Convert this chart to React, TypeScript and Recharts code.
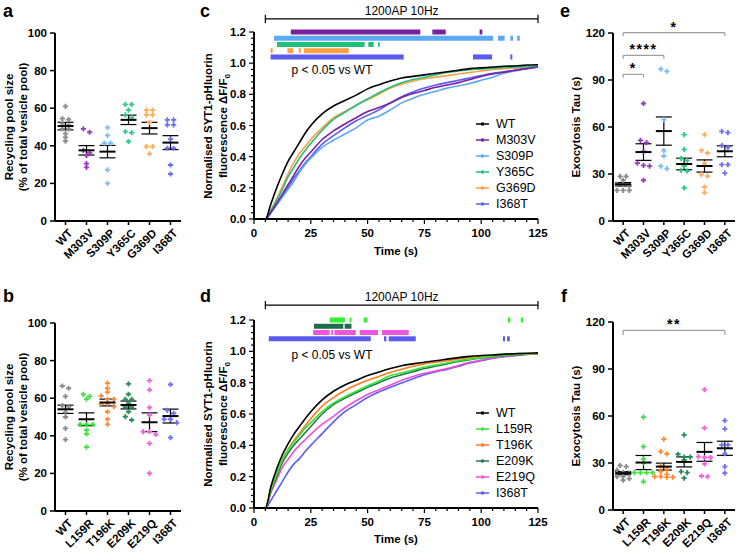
import React from 'react';
import {
  ComposedChart, LineChart, Line, Scatter, XAxis, YAxis, ErrorBar,
  ReferenceLine, ReferenceArea, Legend,
} from 'recharts';

const FONT = '"Liberation Sans", Arial, Helvetica, sans-serif';

// ---------------- Panels a & e : C2B variants ----------------
const CATS_AE = ['WT', 'M303V', 'S309P', 'Y365C', 'G369D', 'I368T'];
const POOL_A = [
  [61, 54.5, 54, 52, 51, 49, 49, 46.5, 44.5, 42.5],
  [49, 47.2, 37.5, 36.2, 34.8, 30.5, 28.5],
  [49.7, 45.5, 41.4, 41.4, 27.2, 20],
  [62, 62, 59, 56.5, 55, 47.5, 47, 42.3],
  [59, 59, 56.5, 56.5, 52.4, 39.6, 39.6, 35.7],
  [53.8, 53.8, 51.1, 51.1, 43.5, 38.7, 38.7, 29.8, 25],
];
const POOL_A_MEAN = [50.5, 37.6, 36.9, 53.8, 49.4, 41.7];
const POOL_A_SEM = [2.0, 2.5, 3.3, 2.5, 3.1, 3.7];

const TAU_E = [
  [28.5, 28.5, 26, 23.4, 23.4, 22.5, 19.5, 19.5, 19.5],
  [75, 51.5, 50, 44.5, 37, 35.5, 35, 26],
  [95.5, 97, 64.7, 45, 41.5, 35, 33.4],
  [55.1, 45.7, 39.8, 38.7, 35.1, 32.3, 31.9, 21.1],
  [55.1, 45.1, 43.4, 36.6, 29.6, 28.7, 21.7, 18.1],
  [56.4, 57.2, 48.3, 47, 36, 36, 30.6],
];
const TAU_E_MEAN = [23.4, 44, 57.4, 36.4, 35.1, 44.5];
const TAU_E_SEM = [1.1, 5.3, 9, 3.7, 3.9, 3.5];
const SIG_E = [
  { to: 1, y: 93.6, stars: '*' },
  { to: 2, y: 105.7, stars: '****' },
  { to: 5, y: 120.2, stars: '*' },
];

// ---------------- Panels b & f : other variants ----------------
const CATS_BF = ['WT', 'L159R', 'T196K', 'E209K', 'E219Q', 'I368T'];
const POOL_B = [
  [66.5, 65.3, 61, 56, 55.5, 52.5, 50, 44, 38],
  [61, 62, 59.5, 46, 46, 46, 43, 41, 34],
  [68, 65.3, 63.2, 61.2, 59.4, 59.4, 57, 57, 55.5, 52.8, 48.8, 46.1],
  [67.6, 62.1, 59.4, 59.4, 57.3, 55.2, 55.2, 52.8, 50.2, 48.4],
  [69.4, 64.4, 55, 51, 42.2, 42.2, 40.7, 36, 20],
  [67.3, 53.5, 52, 48.8, 48.8, 47, 39],
];
const POOL_B_MEAN = [54.1, 48.8, 57.7, 56.4, 47.2, 50.5];
const POOL_B_SEM = [2.2, 3.4, 1.8, 2.1, 5.0, 3.7];

const TAU_F = [
  [28.4, 27.7, 25.5, 24, 23.5, 21.3, 21.3, 19, 20],
  [59.3, 40.5, 32.6, 30, 23.9, 23.9, 23.9, 23.9, 18.1],
  [45.2, 37.3, 35.8, 28, 26, 24.5, 22.8, 21.3, 21.3, 21, 21],
  [48, 35.6, 33.7, 33.7, 32, 24.5, 23.9, 20.3],
  [76.8, 52.2, 34.1, 33.5, 33.5, 29.4, 21.3, 21.7],
  [57.1, 51.8, 41.6, 41.6, 36, 27.7, 23.5],
];
const TAU_F_MEAN = [23.5, 30.3, 27.7, 30.7, 37.1, 39.4];
const TAU_F_SEM = [1.0, 4.5, 2.2, 3.2, 6.0, 4.5];
const SIG_F = [{ to: 5, y: 114.7, stars: '**' }];

// ---------------- Panels c & d : traces ----------------
const TIME = [0, 2.5, 5, 7.5, 10, 12.5, 15, 17.5, 20, 22.5, 25, 30, 35, 40, 45, 50, 55, 60, 65, 70, 75, 80, 85, 90, 95, 100, 105, 110, 115, 120, 125];

const TRACE_C: Record<string, number[]> = {
  WT: [0, 0, 0, 0.10, 0.20, 0.29, 0.37, 0.43, 0.49, 0.55, 0.60, 0.675, 0.725, 0.76, 0.795, 0.835, 0.862, 0.886, 0.905, 0.915, 0.925, 0.935, 0.945, 0.955, 0.965, 0.97, 0.975, 0.98, 0.982, 0.988, 0.99],
  M303V: [0, 0, 0, 0.045, 0.10, 0.16, 0.22, 0.28, 0.34, 0.39, 0.43, 0.51, 0.565, 0.61, 0.65, 0.69, 0.715, 0.745, 0.78, 0.805, 0.825, 0.845, 0.86, 0.875, 0.895, 0.915, 0.93, 0.942, 0.955, 0.965, 0.975],
  S309P: [0, 0, 0, 0.04, 0.09, 0.14, 0.19, 0.24, 0.30, 0.35, 0.39, 0.46, 0.505, 0.545, 0.585, 0.635, 0.66, 0.70, 0.745, 0.775, 0.80, 0.82, 0.84, 0.855, 0.87, 0.89, 0.91, 0.935, 0.95, 0.965, 0.975],
  Y365C: [0, 0, 0, 0.055, 0.12, 0.19, 0.27, 0.33, 0.39, 0.44, 0.485, 0.57, 0.64, 0.685, 0.73, 0.77, 0.81, 0.845, 0.875, 0.895, 0.91, 0.925, 0.94, 0.95, 0.958, 0.963, 0.968, 0.972, 0.975, 0.978, 0.98],
  G369D: [0, 0, 0, 0.06, 0.13, 0.21, 0.29, 0.36, 0.42, 0.465, 0.51, 0.585, 0.65, 0.69, 0.73, 0.765, 0.80, 0.84, 0.865, 0.885, 0.90, 0.91, 0.92, 0.93, 0.94, 0.95, 0.96, 0.965, 0.97, 0.975, 0.98],
  I368T: [0, 0, 0, 0.04, 0.095, 0.15, 0.20, 0.26, 0.31, 0.36, 0.40, 0.48, 0.535, 0.585, 0.63, 0.665, 0.70, 0.745, 0.785, 0.815, 0.84, 0.86, 0.875, 0.89, 0.905, 0.92, 0.935, 0.945, 0.955, 0.965, 0.975],
};
const TRACE_D: Record<string, number[]> = {
  WT: [0, 0, 0, 0.14, 0.25, 0.34, 0.41, 0.47, 0.52, 0.57, 0.615, 0.69, 0.745, 0.785, 0.815, 0.845, 0.868, 0.89, 0.908, 0.92, 0.93, 0.94, 0.95, 0.96, 0.968, 0.973, 0.977, 0.982, 0.985, 0.988, 0.99],
  L159R: [0, 0, 0, 0.12, 0.22, 0.31, 0.37, 0.42, 0.465, 0.51, 0.545, 0.615, 0.67, 0.71, 0.745, 0.78, 0.81, 0.845, 0.862, 0.88, 0.90, 0.912, 0.925, 0.94, 0.95, 0.96, 0.968, 0.975, 0.98, 0.985, 0.988],
  T196K: [0, 0, 0, 0.12, 0.22, 0.31, 0.375, 0.43, 0.475, 0.525, 0.57, 0.65, 0.705, 0.75, 0.785, 0.815, 0.84, 0.865, 0.886, 0.905, 0.92, 0.93, 0.94, 0.952, 0.96, 0.967, 0.972, 0.977, 0.98, 0.984, 0.985],
  E209K: [0, 0, 0, 0.11, 0.20, 0.29, 0.35, 0.40, 0.44, 0.48, 0.52, 0.60, 0.66, 0.70, 0.735, 0.77, 0.80, 0.83, 0.85, 0.87, 0.89, 0.905, 0.92, 0.935, 0.947, 0.957, 0.965, 0.972, 0.978, 0.982, 0.985],
  E219Q: [0, 0, 0, 0.10, 0.18, 0.26, 0.31, 0.36, 0.40, 0.435, 0.47, 0.535, 0.585, 0.64, 0.685, 0.725, 0.755, 0.785, 0.815, 0.84, 0.86, 0.875, 0.89, 0.91, 0.93, 0.945, 0.958, 0.968, 0.975, 0.982, 0.985],
  I368T: [0, 0, 0, 0.05, 0.11, 0.17, 0.23, 0.28, 0.315, 0.36, 0.40, 0.475, 0.55, 0.615, 0.66, 0.705, 0.74, 0.77, 0.798, 0.825, 0.85, 0.87, 0.885, 0.905, 0.925, 0.94, 0.955, 0.965, 0.972, 0.98, 0.985],
};

// significant time windows (s), p < 0.05 vs WT
const SIG_C: Record<string, number[][]> = {
  M303V: [[16.2, 73.2], [78.5, 84.4], [99.3, 100.5]],
  S309P: [[8.8, 105.2], [107.4, 110.3], [112.8, 114], [115.8, 117]],
  Y365C: [[10.1, 48.7], [50.3, 52.7], [54.6, 55.3]],
  G369D: [[7.3, 8.2], [14.7, 17.2], [19.7, 20.6], [21.9, 41.7]],
  I368T: [[7.3, 65.9], [96.4, 104.8], [112.8, 113.7]],
};
const SIG_D: Record<string, number[][]> = {
  L159R: [[33.3, 40], [42.1, 42.9], [48.3, 49.9], [111.8, 112.8], [117.4, 118.4]],
  T196K: [],
  E209K: [[26.4, 39.3], [39.9, 42.9]],
  E219Q: [[26, 33.3], [34, 34.8], [35.4, 44.8], [46.5, 54.6], [56.3, 68.1]],
  I368T: [[6.5, 51.4], [57.2, 58.3], [59.3, 71.2], [109.6, 110.5], [111.4, 112.6]],
};

const X_TICKS = Array.from({ length: 26 }, (_, i) => i * 5);
const Y_TICKS_TRACE = Array.from({ length: 31 }, (_, i) => (i * 4) / 100);

// ---------------- colours ----------------
const LINE_C = ['#000000', '#7b1fa2', '#59a9f5', '#1fbf7f', '#ff9e40', '#5c5cf2'];
const LINE_D = ['#000000', '#33e633', '#ff7a1f', '#1f7a4c', '#f04fdc', '#5c5cf2'];
const DOT_AE = ['#8a8a8a', '#9a3cc0', '#7cbcf9', '#2ccb86', '#ffad5c', '#6f6ff5'];
const DOT_BF = ['#8a8a8a', '#3fe03f', '#ff8a33', '#2e8a5c', '#f060e0', '#7070f5'];

// ---------------- helpers ----------------
function swarm(groups: number[][], minGap: number, step: number) {
  const pts: { x: number; y: number; g: number }[] = [];
  groups.forEach((vals, g) => {
    const sorted = [...vals].sort((a, b) => b - a);
    let row: number[] = [];
    const flush = () => {
      row.forEach((v, k) => pts.push({ x: g + (k - (row.length - 1) / 2) * step, y: v, g }));
      row = [];
    };
    sorted.forEach((v) => {
      if (row.length && row[0] - v > minGap) flush();
      row.push(v);
    });
    flush();
  });
  return pts;
}

const Plus = (props: any) => {
  const { cx, cy, color } = props;
  if (cx == null || cy == null) return null;
  const a = 0.9, b = 2.6;
  const d = `M${cx - a},${cy - b}h${2 * a}v${b - a}h${b - a}v${2 * a}h${-(b - a)}v${b - a}h${-2 * a}v${-(b - a)}h${-(b - a)}v${-2 * a}h${b - a}z`;
  return <path d={d} fill={color} />;
};

const MeanBar = (props: any) => {
  const { cx, cy } = props;
  if (cx == null || cy == null) return null;
  return <line x1={cx - 8} x2={cx + 8} y1={cy} y2={cy} stroke="#000" strokeWidth={2} />;
};

const CatTick = (props: any) => {
  const { x, y, payload, cats } = props;
  const i = Math.round(payload.value);
  const ax = x + 5, ay = y + 10;
  return (
    <g>
      <line x1={x} x2={x} y1={y} y2={y + 4} stroke="#000" strokeWidth={1.5} />
      <text x={ax} y={ay} transform={`rotate(-45 ${ax} ${ay})`} textAnchor="end" dy="0.35em"
        fontFamily={FONT} fontWeight="bold" fontSize={11.5} fill="#000">{cats[i]}</text>
    </g>
  );
};

const ValTickY = (props: any) => {
  const { x, y, payload } = props;
  return (
    <g>
      <line x1={x - 5} x2={x} y1={y} y2={y} stroke="#000" strokeWidth={1.5} />
      <text x={x - 8} y={y} dy="0.35em" textAnchor="end" fontFamily={FONT} fontWeight="bold" fontSize={11.5} fill="#000">{payload.value}</text>
    </g>
  );
};

const FracTickY = (props: any) => {
  const { x, y, payload } = props;
  const v = payload.value;
  const major = Math.abs(v * 5 - Math.round(v * 5)) < 1e-6;
  return (
    <g>
      <line x1={x - (major ? 5 : 3)} x2={x} y1={y} y2={y} stroke="#000" strokeWidth={1.2} />
      {major && (
        <text x={x - 8} y={y} dy="0.35em" textAnchor="end" fontFamily={FONT} fontWeight="bold" fontSize={11.5} fill="#000">{v.toFixed(1)}</text>
      )}
    </g>
  );
};

const TimeTickX = (props: any) => {
  const { x, y, payload } = props;
  const v = payload.value;
  const major = v % 25 === 0;
  return (
    <g>
      <line x1={x} x2={x} y1={y} y2={y + (major ? 5 : 3)} stroke="#000" strokeWidth={1.2} />
      {major && (
        <text x={x} y={y + 10} dy="0.71em" textAnchor="middle" fontFamily={FONT} fontWeight="bold" fontSize={11.5} fill="#000">{v}</text>
      )}
    </g>
  );
};

type DotProps = {
  left: number; top: number; width: number; height: number;
  mTop: number; mRight: number; yW: number; xH: number;
  cats: string[]; groups: number[][]; means: number[]; sems: number[]; colors: string[];
  yMax: number; yTicks: number[]; minGap: number;
  brackets?: { to: number; y: number; stars: string }[]; drop?: number;
};

function DotPanel(p: DotProps) {
  const pts = swarm(p.groups, p.minGap, 0.3);
  const meanData = p.means.map((m, i) => ({ x: i, y: m, sem: p.sems[i] }));
  return (
    <div style={{ position: 'absolute', left: p.left, top: p.top }}>
      <ComposedChart width={p.width} height={p.height} margin={{ top: p.mTop, right: p.mRight, left: 0, bottom: 0 }}>
        <XAxis type="number" dataKey="x" domain={[-0.5, 5.5]} ticks={[0, 1, 2, 3, 4, 5]} interval={0}
          height={p.xH} tickSize={0} tickMargin={0} tickLine={false}
          axisLine={{ stroke: '#000', strokeWidth: 2 }} tick={<CatTick cats={p.cats} />} />
        <YAxis type="number" dataKey="y" domain={[0, p.yMax]} ticks={p.yTicks} interval={0}
          width={p.yW} tickSize={0} tickMargin={0} tickLine={false}
          axisLine={{ stroke: '#000', strokeWidth: 2 }} tick={<ValTickY />} />
        {p.groups.map((_, g) => (
          <Scatter key={g} data={pts.filter((q) => q.g === g)} isAnimationActive={false}
            shape={(sp: any) => <Plus {...sp} color={p.colors[g]} />} />
        ))}
        <Scatter data={meanData} isAnimationActive={false} shape={(sp: any) => <MeanBar {...sp} />}>
          <ErrorBar dataKey="sem" direction="y" width={8} stroke="#000" strokeWidth={1.2} isAnimationActive={false} />
        </Scatter>
        {(p.brackets || []).map((b, k) => (
          <ReferenceLine key={`h${k}`} segment={[{ x: 0, y: b.y }, { x: b.to, y: b.y }]} stroke="#9e9e9e" strokeWidth={1.2}
            ifOverflow="visible"
            label={{ value: b.stars, position: 'top', offset: 1, fill: '#000', fontSize: 14, fontWeight: 'bold', fontFamily: FONT, letterSpacing: 1.5 }} />
        ))}
        {(p.brackets || []).map((b, k) => (
          <ReferenceLine key={`l${k}`} segment={[{ x: 0, y: b.y }, { x: 0, y: b.y - (p.drop || 2) }]} stroke="#9e9e9e" strokeWidth={1.2} ifOverflow="visible" />
        ))}
        {(p.brackets || []).map((b, k) => (
          <ReferenceLine key={`r${k}`} segment={[{ x: b.to, y: b.y }, { x: b.to, y: b.y - (p.drop || 2) }]} stroke="#9e9e9e" strokeWidth={1.2} ifOverflow="visible" />
        ))}
      </ComposedChart>
    </div>
  );
}

type TraceProps = {
  left: number; top: number; width: number; height: number;
  mTop: number; mRight: number; yW: number; xH: number;
  traces: Record<string, number[]>; names: string[]; colors: string[];
  sig: Record<string, number[][]>; sigColors: Record<string, string>;
  bracketY: number; bracketCap: number; legendTop: number;
};

function TracePanel(p: TraceProps) {
  const rows = TIME.map((t, i) => {
    const r: Record<string, number> = { t };
    p.names.forEach((n) => { r[n] = p.traces[n][i]; });
    return r;
  });
  const sigNames = Object.keys(p.sig).filter((n) => p.sig[n].length > 0);
  const drawOrder = [...p.names].reverse();
  return (
    <div style={{ position: 'absolute', left: p.left, top: p.top }}>
      <LineChart width={p.width} height={p.height} data={rows} margin={{ top: p.mTop, right: p.mRight, left: 0, bottom: 0 }}>
        <XAxis type="number" dataKey="t" domain={[0, 125]} ticks={X_TICKS} interval={0}
          height={p.xH} tickSize={0} tickMargin={0} tickLine={false}
          axisLine={{ stroke: '#000', strokeWidth: 2 }} tick={<TimeTickX />} />
        <YAxis type="number" domain={[0, 1.2]} ticks={Y_TICKS_TRACE} interval={0}
          width={p.yW} tickSize={0} tickMargin={0} tickLine={false}
          axisLine={{ stroke: '#000', strokeWidth: 2 }} tick={<FracTickY />} />
        {sigNames.map((n, row) =>
          p.sig[n].map((seg, k) => (
            <ReferenceArea key={`${n}${k}`} x1={seg[0]} x2={seg[1]} y1={1.2 - row * 0.04 - 0.016} y2={1.2 - row * 0.04 + 0.016}
              fill={p.sigColors[n]} fillOpacity={1} stroke="none" ifOverflow="visible" />
          ))
        )}
        <ReferenceLine segment={[{ x: 5, y: p.bracketY }, { x: 125, y: p.bracketY }]} stroke="#000" strokeWidth={1.2}
          ifOverflow="visible"
          label={{ value: '1200AP 10Hz', position: 'top', offset: 4, fill: '#000', fontSize: 12, fontFamily: FONT }} />
        <ReferenceLine segment={[{ x: 5, y: p.bracketY - p.bracketCap }, { x: 5, y: p.bracketY + p.bracketCap }]} stroke="#000" strokeWidth={1.2} ifOverflow="visible" />
        <ReferenceLine segment={[{ x: 125, y: p.bracketY - p.bracketCap }, { x: 125, y: p.bracketY + p.bracketCap }]} stroke="#000" strokeWidth={1.2} ifOverflow="visible" />
        {drawOrder.map((n) => (
          <Line key={n} dataKey={n} type="monotone" stroke={p.colors[p.names.indexOf(n)]} strokeWidth={1.6}
            dot={false} activeDot={false} isAnimationActive={false} />
        ))}
        <Legend layout="vertical" align="center" verticalAlign="middle"
          wrapperStyle={{ left: 280, top: p.legendTop, width: 70 }}
          content={() => (
            <div style={{ fontFamily: FONT, fontSize: 12.5, color: '#000' }}>
              {p.names.map((n, i) => (
                <div key={n} style={{ display: 'flex', alignItems: 'center', height: 16 }}>
                  <svg width={15} height={16}>
                    <line x1={1} x2={14} y1={8} y2={8} stroke={p.colors[i]} strokeWidth={1.5} />
                    <rect x={6} y={6.5} width={3} height={3} fill={p.colors[i]} />
                  </svg>
                  <span style={{ marginLeft: 6, lineHeight: '16px' }}>{n}</span>
                </div>
              ))}
            </div>
          )} />
      </LineChart>
    </div>
  );
}

const VTitle = ({ x, y, children }: any) => (
  <text x={x} y={y} transform={`rotate(-90 ${x} ${y})`} textAnchor="middle" dy="0.35em"
    fontFamily={FONT} fontWeight="bold" fontSize={11.5} fill="#000">{children}</text>
);

const Letter = ({ x, y, children }: any) => (
  <text x={x} y={y} fontFamily={FONT} fontWeight="bold" fontSize={18} fill="#000">{children}</text>
);

export default function App() {
  const sigColC: Record<string, string> = { M303V: '#7b1fa2', S309P: '#5aaaf7', Y365C: '#1fc07a', G369D: '#ffa040', I368T: '#5b5bee' };
  const sigColD: Record<string, string> = { L159R: '#33ee33', T196K: '#ff7a1f', E209K: '#1f6e4a', E219Q: '#f055e0', I368T: '#5b5bee' };
  return (
    <div style={{ position: 'absolute', left: 0, top: 0, width: 740, height: 552, overflow: 'hidden', background: '#fff' }}>
      <DotPanel left={0} top={0} width={190} height={280} mTop={33} mRight={9} yW={55} xH={59}
        cats={CATS_AE} groups={POOL_A} means={POOL_A_MEAN} sems={POOL_A_SEM} colors={DOT_AE}
        yMax={100} yTicks={[0, 20, 40, 60, 80, 100]} minGap={1.9} />
      <DotPanel left={0} top={290} width={190} height={262} mTop={33} mRight={9} yW={55} xH={41}
        cats={CATS_BF} groups={POOL_B} means={POOL_B_MEAN} sems={POOL_B_SEM} colors={DOT_BF}
        yMax={100} yTicks={[0, 20, 40, 60, 80, 100]} minGap={1.9} />
      <TracePanel left={195} top={0} width={360} height={270} mTop={32} mRight={17} yW={59} xH={51}
        traces={TRACE_C} names={CATS_AE} colors={LINE_C} sig={SIG_C} sigColors={sigColC}
        bracketY={1.284} bracketCap={0.026} legendTop={116} />
      <TracePanel left={195} top={288} width={360} height={264} mTop={32} mRight={17} yW={59} xH={44}
        traces={TRACE_D} names={CATS_BF} colors={LINE_D} sig={SIG_D} sigColors={sigColD}
        bracketY={1.295} bracketCap={0.026} legendTop={117} />
      <DotPanel left={545} top={0} width={195} height={280} mTop={33} mRight={5} yW={68} xH={59}
        cats={CATS_AE} groups={TAU_E} means={TAU_E_MEAN} sems={TAU_E_SEM} colors={DOT_AE}
        yMax={120} yTicks={[0, 30, 60, 90, 120]} minGap={2.2} brackets={SIG_E} drop={2.1} />
      <DotPanel left={545} top={290} width={195} height={262} mTop={32} mRight={5} yW={68} xH={42}
        cats={CATS_BF} groups={TAU_F} means={TAU_F_MEAN} sems={TAU_F_SEM} colors={DOT_BF}
        yMax={120} yTicks={[0, 30, 60, 90, 120]} minGap={2.2} brackets={SIG_F} drop={3} />
      <svg width={740} height={552} style={{ position: 'absolute', left: 0, top: 0, pointerEvents: 'none' }}>
        <Letter x={3} y={17}>a</Letter>
        <Letter x={3} y={302}>b</Letter>
        <Letter x={200} y={17}>c</Letter>
        <Letter x={200} y={302}>d</Letter>
        <Letter x={560} y={17}>e</Letter>
        <Letter x={561} y={302}>f</Letter>
        <VTitle x={8.5} y={127}>Recycling pool size</VTitle>
        <VTitle x={22.5} y={127}>(% of total vesicle pool)</VTitle>
        <VTitle x={8.5} y={417}>Recycling pool size</VTitle>
        <VTitle x={22.5} y={417}>(% of total vesicle pool)</VTitle>
        <VTitle x={207.5} y={126}>Normalised SYT1-pHluorin</VTitle>
        <VTitle x={222.5} y={126}>fluorescence ΔF/F<tspan fontSize={8} dy={3}>0</tspan></VTitle>
        <VTitle x={207.5} y={414}>Normalised SYT1-pHluorin</VTitle>
        <VTitle x={222.5} y={414}>fluorescence ΔF/F<tspan fontSize={8} dy={3}>0</tspan></VTitle>
        <VTitle x={576} y={127}>Exocytosis Tau (s)</VTitle>
        <VTitle x={576} y={416}>Exocytosis Tau (s)</VTitle>
        <text x={396} y={255} textAnchor="middle" fontFamily={FONT} fontWeight="bold" fontSize={11.5}>Time (s)</text>
        <text x={396} y={543} textAnchor="middle" fontFamily={FONT} fontWeight="bold" fontSize={11.5}>Time (s)</text>
        <text x={291.5} y={74.3} fontFamily={FONT} fontSize={12}>p &lt; 0.05 vs WT</text>
        <text x={291.5} y={359.3} fontFamily={FONT} fontSize={12}>p &lt; 0.05 vs WT</text>
      </svg>
    </div>
  );
}
